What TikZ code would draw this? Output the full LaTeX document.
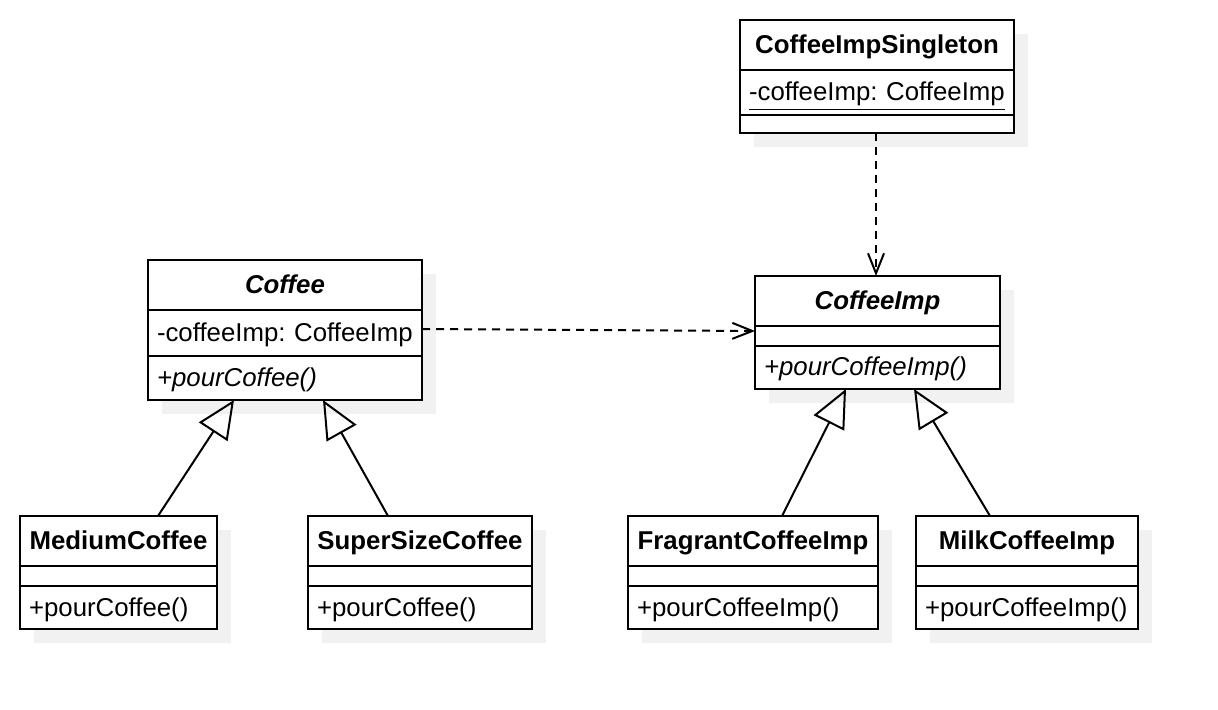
\documentclass[tikz,border=0pt]{standalone}
\usepackage{fontspec}
\setmainfont{Liberation Sans}
\usetikzlibrary{arrows.meta,positioning}
\definecolor{cInk}{HTML}{000000}
\definecolor{cShadow}{HTML}{F1F1F1}
\def\px{0.5pt}
\newcommand{\clsfont}{\fontsize{12.9}{15}\selectfont}
\frenchspacing

\begin{document}
\begin{tikzpicture}[
  x=0.5pt, y=-0.5pt,
  font=\clsfont,
  box/.style={rectangle, draw=cInk, line width=1pt, fill=white,
    inner sep=0pt, outer sep=0pt, text height=1.0em, text depth=0.15em},
  hd/.style={box, minimum width=#1*\px, minimum height=50*\px,
    font={\clsfont\bfseries}},
  rw/.style 2 args={box, minimum width=#1*\px, minimum height=#2*\px,
    inner xsep=4.5pt, text width=(#1-18)*\px, align=left,
    execute at begin node={\leavevmode\hbox\bgroup},
    execute at end node={\egroup}},
  em/.style 2 args={rectangle, draw=cInk, line width=1pt, fill=white,
    inner sep=0pt, outer sep=0pt, minimum width=#1*\px, minimum height=#2*\px},
  dep/.style={cInk, line width=1pt, dash pattern=on 4pt off 3pt,
    -{Straight Barb[length=10pt, width=8pt]}},
  gen/.style={cInk, line width=1pt,
    -{Triangle[open, length=19pt, width=17pt]}},
]
\useasboundingbox[fill=white] (0,0) rectangle (1218,710);

% drop shadows, one per class
\foreach \x/\y/\w/\h in {740/20/274/113, 148/260/274/140, 755/276/245/113,
  20/516/197/113, 308/516/224/113, 628/516/250/113, 916/516/222/113}
  {\fill[cShadow] (\x+14,\y+14) rectangle ++(\w,\h);}

% ============================================================ top classes
\node[hd=274, anchor=north west] (sglH) at (740,20) {CoffeeImpSingleton};
\node[rw={274}{45}, below=0pt of sglH] (sglA) {\underline{-coffeeImp: CoffeeImp}};
\node[em={274}{18}, below=0pt of sglA] (sglO) {};

\node[hd=274, anchor=north west] (cofH) at (148,260) {\textit{Coffee}};
\node[rw={274}{46}, below=0pt of cofH] (cofA) {-coffeeImp: CoffeeImp};
\node[rw={274}{44}, below=0pt of cofA] (cofM) {\textit{+pourCoffee()}};

\node[hd=245, anchor=north west] (impH) at (755,276) {\textit{CoffeeImp}};
\node[em={245}{20}, below=0pt of impH] (impE) {};
\node[rw={245}{43}, below=0pt of impE] (impM) {\textit{+pourCoffeeImp()}};

% ============================================================ subclasses
\foreach \n/\x/\w/\t/\m in {med/20/197/MediumCoffee/pourCoffee,
  sup/308/224/SuperSizeCoffee/pourCoffee,
  fra/628/250/FragrantCoffeeImp/pourCoffeeImp,
  mil/916/222/MilkCoffeeImp/pourCoffeeImp} {
  \node[hd=\w, anchor=north west] (h\n) at (\x,516) {\t};
  \node[em={\w}{20}, below=0pt of h\n] (e\n) {};
  \node[rw={\w}{43}, below=0pt of e\n] (m\n) {+\m()};
}

% ============================================================ relations
\draw[dep] (cofA.east |- 0,329) -- (impE.west |- 0,331);
\draw[dep] (sglO.south -| 876,0) -- (impH.north -| 876,0);
\draw[gen] (hmed.north -| 158,0) -- (cofM.south -| 234,0);
\draw[gen] (hsup.north -| 388,0) -- (cofM.south -| 323,0);
\draw[gen] (hfra.north -| 782,0) -- (impM.south -| 846,0);
\draw[gen] (hmil.north -| 990,0) -- (impM.south -| 914,0);
\end{tikzpicture}
\end{document}
